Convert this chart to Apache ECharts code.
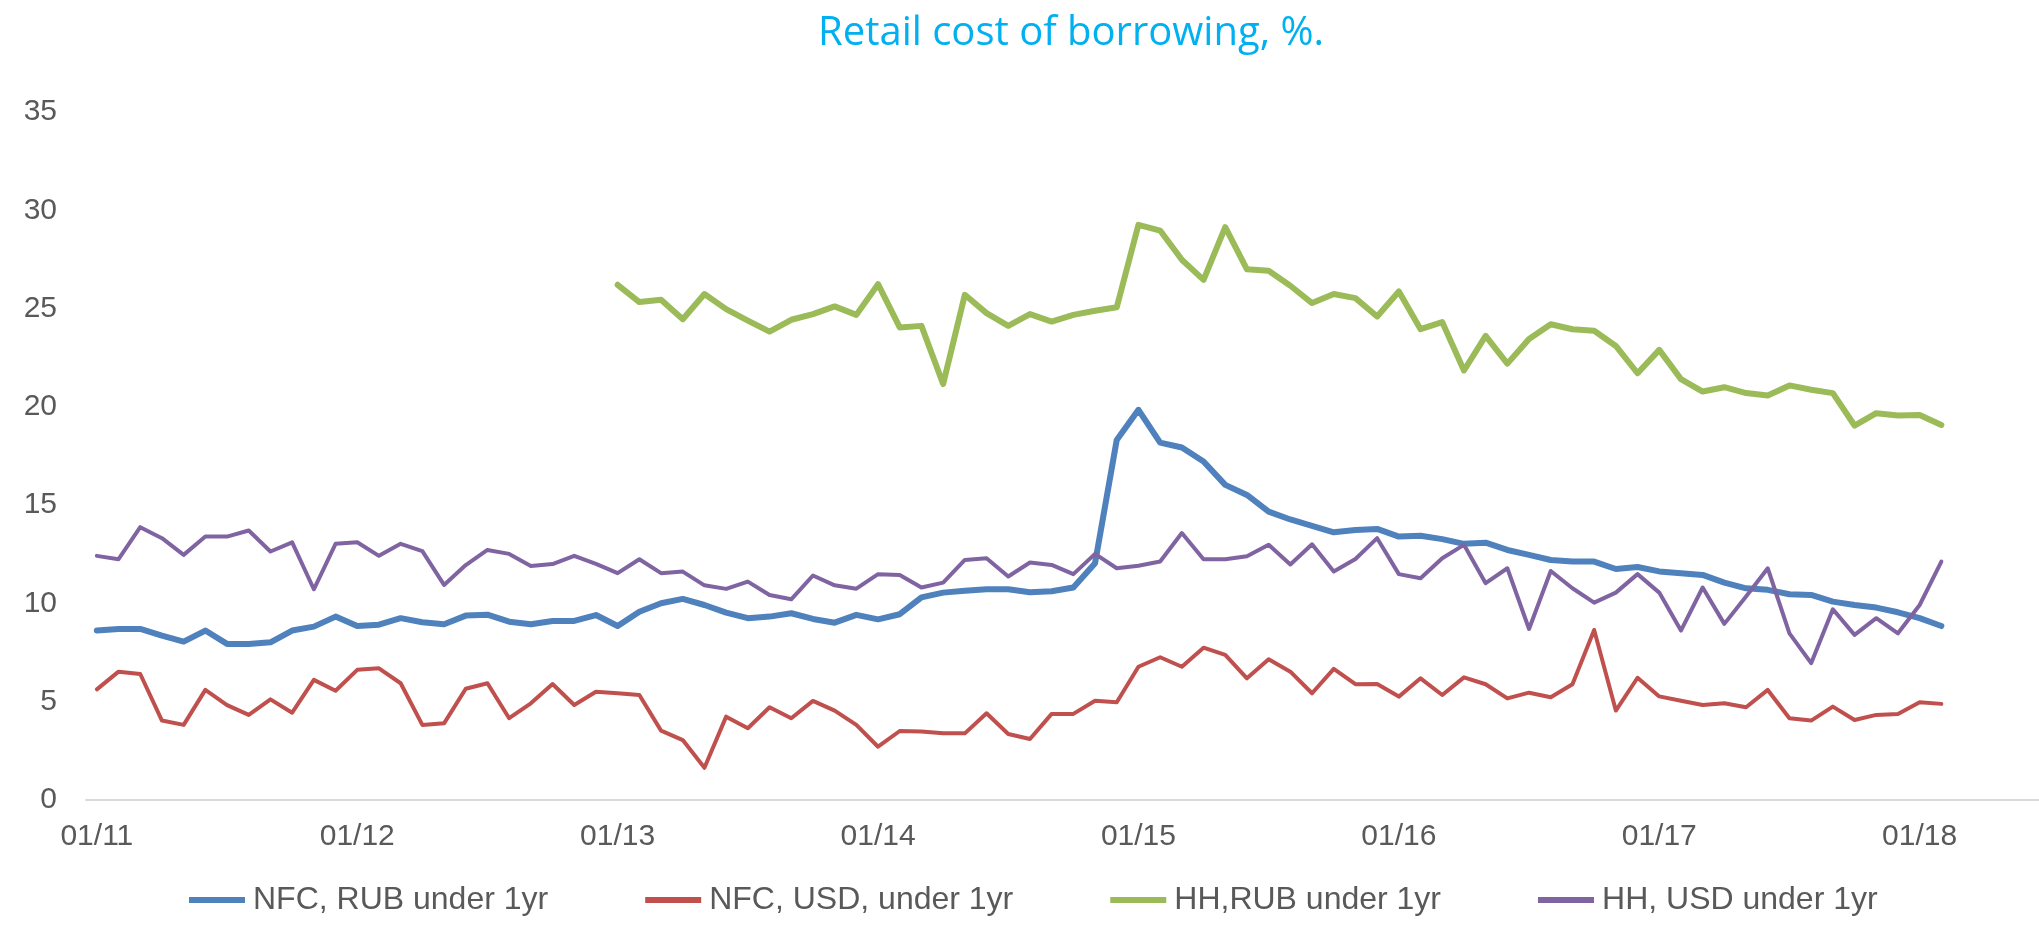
<!DOCTYPE html>
<html>
<head>
<meta charset="utf-8">
<title>Retail cost of borrowing</title>
<script src="https://cdn.jsdelivr.net/npm/echarts@6/dist/echarts.min.js"></script>
<style>
  html, body { margin: 0; padding: 0; background: #ffffff; }
  #chart { width: 2039px; height: 927px; }
</style>
</head>
<body>
<div id="chart"></div>
<script>
// Monthly observations, Jan 2011 – Feb 2018 (86 months); axis runs to Jun 2018.
const startYear = 2011;
const axisMonths = 90;
const months = [];
for (let i = 0; i < axisMonths; i++) {
  const m = (i % 12) + 1;
  const y = (startYear + Math.floor(i / 12)) % 100;
  months.push(String(m).padStart(2, '0') + '/' + String(y).padStart(2, '0'));
}

const seriesNames = ['NFC, RUB under 1yr', 'NFC, USD, under 1yr', 'HH,RUB under 1yr', 'HH, USD under 1yr'];

const nfcRub = [
  8.62, 8.70, 8.70, 8.36, 8.06, 8.62, 7.94, 7.94, 8.02, 8.62, 8.82, 9.33,
  8.85, 8.92, 9.25, 9.04, 8.94, 9.38, 9.43, 9.07, 8.94, 9.11, 9.11, 9.41,
  8.85, 9.58, 10.01, 10.23, 9.92, 9.53, 9.25, 9.33, 9.50, 9.21, 9.02, 9.42,
  9.19, 9.45, 10.31, 10.55, 10.65, 10.72, 10.72, 10.57, 10.62, 10.81, 12.05, 18.32,
  19.85, 18.18, 17.93, 17.22, 16.03, 15.52, 14.67, 14.27, 13.95, 13.62, 13.74, 13.79,
  13.40, 13.44, 13.27, 13.03, 13.09, 12.72, 12.47, 12.21, 12.13, 12.13, 11.75, 11.85,
  11.63, 11.54, 11.45, 11.06, 10.77, 10.69, 10.47, 10.43, 10.09, 9.92, 9.79, 9.55,
  9.25, 8.85
];

const nfcUsd = [
  5.63, 6.53, 6.41, 4.04, 3.82, 5.60, 4.83, 4.33, 5.12, 4.44, 6.11, 5.56,
  6.62, 6.70, 5.94, 3.82, 3.90, 5.66, 5.94, 4.16, 4.92, 5.90, 4.83, 5.51,
  5.43, 5.34, 3.53, 3.05, 1.64, 4.24, 3.65, 4.72, 4.16, 5.04, 4.55, 3.82,
  2.71, 3.51, 3.49, 3.39, 3.39, 4.41, 3.36, 3.10, 4.38, 4.38, 5.05, 4.97,
  6.78, 7.26, 6.78, 7.75, 7.38, 6.19, 7.16, 6.53, 5.43, 6.67, 5.89, 5.90,
  5.26, 6.19, 5.34, 6.24, 5.89, 5.17, 5.46, 5.23, 5.89, 8.65, 4.55, 6.22,
  5.27, 5.05, 4.83, 4.92, 4.72, 5.60, 4.16, 4.04, 4.75, 4.07, 4.33, 4.38,
  4.97, 4.89
];

// Household rouble series starts in Jan 2013
const hhRub = [
  null, null, null, null, null, null, null, null, null, null, null, null,
  null, null, null, null, null, null, null, null, null, null, null, null,
  26.21, 25.33, 25.45, 24.46, 25.74, 24.97, 24.39, 23.83, 24.43, 24.72, 25.11, 24.68,
  26.24, 24.04, 24.12, 21.16, 25.70, 24.77, 24.12, 24.72, 24.34, 24.68, 24.89, 25.07,
  29.26, 28.97, 27.48, 26.46, 29.14, 27.00, 26.92, 26.16, 25.28, 25.74, 25.53, 24.60,
  25.87, 23.95, 24.31, 21.85, 23.61, 22.20, 23.45, 24.20, 23.95, 23.87, 23.10, 21.71,
  22.90, 21.41, 20.78, 21.00, 20.70, 20.58, 21.09, 20.87, 20.70, 19.05, 19.68, 19.56,
  19.59, 19.08
];

const hhUsd = [
  12.42, 12.25, 13.88, 13.32, 12.47, 13.40, 13.40, 13.71, 12.64, 13.11, 10.72, 13.03,
  13.11, 12.42, 13.03, 12.66, 10.94, 11.95, 12.72, 12.52, 11.91, 12.00, 12.42, 12.01,
  11.54, 12.25, 11.54, 11.62, 10.92, 10.74, 11.11, 10.43, 10.21, 11.42, 10.92, 10.75,
  11.49, 11.45, 10.81, 11.06, 12.21, 12.30, 11.37, 12.08, 11.96, 11.49, 12.52, 11.79,
  11.92, 12.13, 13.58, 12.25, 12.25, 12.40, 12.98, 11.98, 13.01, 11.62, 12.26, 13.32,
  11.49, 11.28, 12.30, 12.98, 11.03, 11.79, 8.70, 11.65, 10.77, 10.04, 10.55, 11.49,
  10.55, 8.62, 10.81, 8.96, 10.35, 11.79, 8.48, 6.96, 9.70, 8.40, 9.25, 8.48,
  9.92, 12.13
];

const yTicks = { min: 0, max: 35, step: 5 };

const colors = ['#4F81BD', '#C0504D', '#9BBB59', '#8064A2'];
const widths = [6, 4, 6, 4];
const seriesData = [nfcRub, nfcUsd, hhRub, hhUsd];

const fontFamily = '"Liberation Sans", Arial, sans-serif';

const chart = echarts.init(document.getElementById('chart'), null, { renderer: 'canvas' });

chart.setOption({
  backgroundColor: '#ffffff',
  animation: false,
  color: colors,
  title: {
    text: 'Retail cost of borrowing, %.',
    left: 1066,
    top: 9,
    textAlign: 'center',
    textStyle: {
      color: '#00B0F0',
      fontFamily: '"Open Sans", sans-serif',
      fontWeight: 'normal',
      fontSize: 40
    }
  },
  legend: {
    data: seriesNames,
    left: 189,
    top: 884,
    padding: 0,
    itemGap: 97,
    itemWidth: 56,
    itemHeight: 6,
    icon: 'rect',
    textStyle: {
      color: '#595959',
      fontFamily: fontFamily,
      fontSize: 32,
      padding: [0, 0, 0, 3]
    }
  },
  grid: {
    left: 86,
    right: 0,
    top: 112,
    bottom: 127,
    containLabel: false
  },
  xAxis: {
    type: 'category',
    data: months,
    boundaryGap: true,
    axisLine: { show: true, lineStyle: { color: '#D9D9D9', width: 2 } },
    axisTick: { show: false },
    splitLine: { show: false },
    axisLabel: {
      interval: 11,
      margin: 22,
      color: '#595959',
      fontFamily: fontFamily,
      fontSize: 30
    }
  },
  yAxis: {
    type: 'value',
    min: yTicks.min,
    max: yTicks.max,
    interval: yTicks.step,
    axisLine: { show: false },
    axisTick: { show: false },
    splitLine: { show: false },
    axisLabel: {
      margin: 29,
      color: '#595959',
      fontFamily: fontFamily,
      fontSize: 30
    }
  },
  series: seriesNames.map((name, k) => ({
    name: name,
    type: 'line',
    data: seriesData[k],
    symbol: 'none',
    showSymbol: false,
    connectNulls: false,
    lineStyle: {
      color: colors[k],
      width: widths[k],
      cap: 'round',
      join: 'round'
    },
    itemStyle: { color: colors[k] },
    emphasis: { disabled: true }
  }))
});
</script>
</body>
</html>
